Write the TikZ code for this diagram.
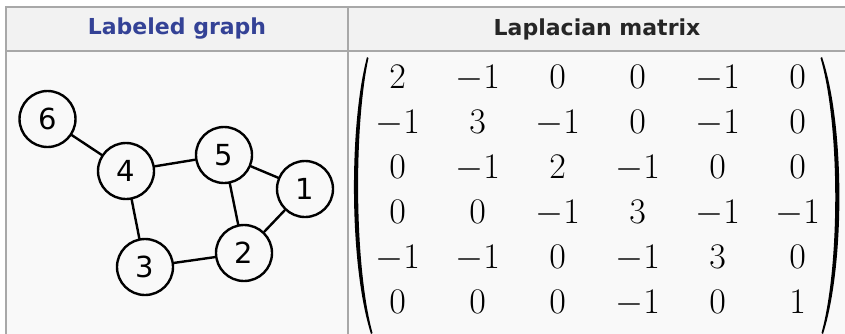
\RequirePackage{fix-cm}
\documentclass[tikz,border=0pt]{standalone}
\usepackage{amsmath}
\usepackage{fontspec}
\newfontfamily\headfont{DejaVu Sans}
\newfontfamily\vertexfont{DejaVu Sans}
\usepackage{tikz}
\usetikzlibrary{matrix}
\usepackage{xcolor}
\definecolor{headbg}{HTML}{F2F2F2}
\definecolor{bodybg}{HTML}{F9F9F9}
\definecolor{rulegray}{HTML}{A8A8A8}
\definecolor{linkblue}{RGB}{52,66,150}

\begin{document}
\begin{tikzpicture}[x=1pt,y=-1pt,line cap=round,
  vertex/.style={draw,circle,line width=2.4pt,minimum size=56pt,inner sep=0pt,font=\fontsize{29}{34}\vertexfont},
  edge/.style={line width=2.4pt},
  headtext/.style={font=\fontsize{22}{26}\headfont\bfseries}]
\useasboundingbox (0,0) rectangle (845,333);
\clip (0,0) rectangle (845,333);
\fill[white] (0,0) rectangle (845,333);
\fill[headbg] (6,7) rectangle (850,51);
\fill[bodybg] (6,51) rectangle (850,340);
\draw[rulegray,line width=1.6pt] (6,340) -- (6,7) -- (850,7);
\draw[rulegray,line width=1.6pt] (6,51) -- (850,51);
\draw[rulegray,line width=1.6pt] (348,7) -- (348,340);
\node[headtext,text=linkblue] (hgraph) at (177,29) {Labeled graph};
\node[headtext,text=black!85] (hmatrix) at (597,29) {Laplacian matrix};
\node[vertex] (v6) at (47.5,119) {6};
\node[vertex] (v4) at (126,171) {4};
\node[vertex] (v5) at (224,155) {5};
\node[vertex] (v1) at (305,189) {1};
\node[vertex] (v2) at (244,253) {2};
\node[vertex] (v3) at (145,267) {3};
\draw[edge] (v6) -- (v4);
\draw[edge] (v4) -- (v5);
\draw[edge] (v5) -- (v1);
\draw[edge] (v5) -- (v2);
\draw[edge] (v1) -- (v2);
\draw[edge] (v4) -- (v3);
\draw[edge] (v3) -- (v2);
\matrix (lap) [matrix of math nodes,inner sep=0pt,
  nodes={minimum width=80pt,minimum height=45pt,text height=23pt,text depth=1pt,inner sep=0pt},
  font=\fontsize{36}{42}\selectfont] at (597.5,190) {
  2 & -1 & 0 & 0 & -1 & 0\\
  -1 & 3 & -1 & 0 & -1 & 0\\
  0 & -1 & 2 & -1 & 0 & 0\\
  0 & 0 & -1 & 3 & -1 & -1\\
  -1 & -1 & 0 & -1 & 3 & 0\\
  0 & 0 & 0 & -1 & 0 & 1\\
};
% the two round brackets
\fill (367,57) .. controls (349,125) and (349,265) .. (371,334)
  -- (372.5,333) .. controls (354,265) and (354,125) .. (368.5,58) -- cycle;
\fill (822,57) .. controls (845,125) and (845,265) .. (823,334)
  -- (821.5,333) .. controls (840,265) and (840,125) .. (820.5,58) -- cycle;
\end{tikzpicture}
\end{document}
